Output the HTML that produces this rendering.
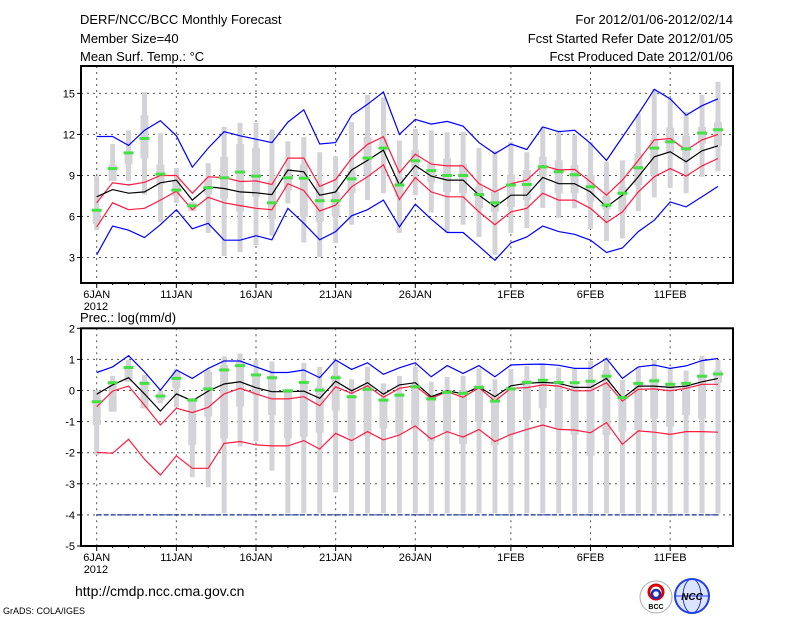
<!DOCTYPE html>
<html><head><meta charset="utf-8"><style>
html,body{margin:0;padding:0;background:#fff;width:800px;height:618px;overflow:hidden}
svg{display:block}
text{font-family:"Liberation Sans","DejaVu Sans",sans-serif;fill:#000}
</style></head><body>
<svg id="chart" width="800" height="618" viewBox="0 0 800 618" xmlns="http://www.w3.org/2000/svg">
<text x="80" y="24" font-size="13">DERF/NCC/BCC Monthly Forecast</text>
<text x="80" y="43" font-size="13">Member Size=40</text>
<text x="80" y="61" font-size="13">Mean Surf. Temp.: °C</text>
<text x="733" y="24" font-size="13" text-anchor="end">For 2012/01/06-2012/02/14</text>
<text x="733" y="43" font-size="13" text-anchor="end">Fcst Started Refer Date 2012/01/05</text>
<text x="733" y="61" font-size="13" text-anchor="end">Fcst Produced Date 2012/01/06</text>
<text x="80" y="322" font-size="13">Prec.: log(mm/d)</text>
<text x="75" y="596" font-size="14">http://cmdp.ncc.cma.gov.cn</text>
<text x="3" y="614" font-size="9">GrADS: COLA/IGES</text>
<g>
<circle cx="656" cy="597" r="16" fill="#fff" stroke="#aaa"/>
<circle cx="656" cy="592" r="7" fill="none" stroke="#d00" stroke-width="3"/>
<circle cx="656" cy="594" r="4" fill="none" stroke="#1030c0" stroke-width="2.5"/>
<text x="656" y="609" font-size="7" text-anchor="middle" font-weight="bold">BCC</text>
</g>
<g>
<circle cx="692" cy="596" r="17" fill="#dde4ff" stroke="#2040e0" stroke-width="2"/>
<ellipse cx="692" cy="596" rx="9" ry="17" fill="none" stroke="#2040e0"/>
<line x1="675" y1="596" x2="709" y2="596" stroke="#2040e0"/>
<text x="692" y="600" font-size="10" text-anchor="middle" fill="#1030c0" font-weight="bold" font-style="italic">NCC</text>
</g>
<g id="plots"></g>
</svg>
<script>
// ---- data ----
const dayLabels = ["6JAN","11JAN","16JAN","21JAN","26JAN","1FEB","6FEB","11FEB"];
const dayLabelIdx = [0,5,10,15,20,26,31,36];
const tTicks = [3,6,9,12,15];
const pTicks = [-5,-4,-3,-2,-1,0,1,2];
// temperature
const tBlueHi = [11.85,11.85,11.2,12.3,13.0,11.9,9.6,11.0,12.2,11.9,11.65,11.4,12.9,13.8,11.3,11.4,13.4,14.2,15.1,12.0,13.1,12.75,12.95,12.6,11.4,10.6,11.3,10.9,12.55,12.2,12.3,11.35,10.1,11.8,13.5,15.3,14.6,13.4,14.1,14.6];
const tBlueLo = [3.2,5.3,5.0,4.46,5.4,6.5,5.1,5.5,4.27,4.27,4.6,4.3,6.6,5.5,4.3,4.9,6.05,6.5,7.2,5.24,6.9,5.8,4.83,4.83,3.83,2.8,4.07,4.5,5.3,4.9,4.7,4.27,3.37,3.7,4.9,5.73,7.07,6.7,7.44,8.2];
const tRedHi = [7.0,8.46,8.3,8.5,9.0,9.0,7.7,8.9,8.85,8.56,8.6,8.34,10.27,10.27,8.2,8.7,10.25,11.27,11.83,9.2,10.56,9.83,9.7,9.7,8.4,7.8,8.4,8.66,9.73,9.4,9.44,8.54,7.56,8.66,10.1,11.6,11.7,10.85,11.6,12.0];
const tRedLo = [5.24,7.0,6.5,6.6,7.2,7.85,6.5,7.4,7.0,6.8,6.6,6.5,8.4,7.9,6.4,6.83,8.17,8.9,9.78,7.24,8.85,7.8,7.44,7.44,6.34,5.4,6.34,6.6,7.7,7.2,7.2,6.6,5.56,6.34,7.8,8.9,9.5,8.95,9.7,10.24];
const tMed = [7.44,7.97,7.7,7.8,8.46,8.66,7.2,8.17,8.05,7.8,7.73,7.6,9.4,9.27,7.56,7.8,9.4,10.1,10.85,8.3,9.73,8.95,8.66,8.66,7.56,6.7,7.56,7.56,8.85,8.4,8.4,7.8,6.7,7.56,8.9,10.36,10.73,10.0,10.8,11.17];
const tObs = [6.46,9.5,10.65,11.7,9.1,7.93,6.78,8.1,8.83,9.25,8.95,7.0,8.83,8.8,7.15,7.15,8.75,10.27,11.0,8.3,10.07,9.35,9.0,9.0,7.6,7.0,8.3,8.34,9.63,9.27,9.05,8.17,6.83,7.7,9.56,11.0,11.46,10.95,12.1,12.34];
const tWhiskHi = [8.95,11.3,12.3,15.1,12.1,9.55,7.05,9.9,12.55,12.85,12.85,12.35,11.5,11.8,10.7,10.4,12.9,14.9,14.7,11.55,12.4,12.3,12.15,12.2,11.0,10.8,11.45,10.7,12.55,12.3,11.95,11.45,10.0,10.1,13.5,15.3,14.7,13.65,14.9,15.85];
const tBoxHi = [6.4,9.8,10.7,13.4,9.8,8.65,7.0,8.8,10.35,11.3,11.0,8.65,9.45,9.8,8.4,7.8,9.35,11.8,11.7,8.85,10.85,9.83,10.25,9.83,8.17,7.8,9.05,9.4,10.37,10.1,9.75,9.05,7.5,8.17,10.6,11.6,12.5,11.9,12.55,12.9];
const tBoxLo = [5.45,8.6,9.8,10.25,8.35,7.5,6.4,7.6,7.3,6.35,7.45,5.8,7.9,5.97,5.6,6.0,7.7,9.0,11.0,7.45,9.4,8.5,7.8,7.7,6.6,6.35,6.7,7.2,8.9,7.7,7.7,7.1,6.5,6.35,8.3,9.0,10.7,10.25,11.35,11.15];
const tWhiskLo = [5.0,8.6,8.6,7.6,5.6,7.0,6.4,4.8,3.1,3.4,3.9,4.6,6.95,4.1,3.05,4.05,5.4,7.2,7.7,4.8,7.55,6.3,4.85,5.4,4.5,3.2,4.8,5.15,6.63,5.9,6.6,5.1,4.2,4.4,6.4,7.4,8.1,7.7,8.9,9.3];
// precipitation
const pBlueHi = [0.58,0.76,1.12,0.6,0.01,0.66,0.39,0.71,0.95,0.95,0.76,0.58,0.58,0.66,0.41,0.98,0.68,0.89,0.52,0.73,0.89,0.44,0.8,0.55,0.8,0.44,0.82,0.84,0.85,0.81,0.71,0.71,1.03,0.39,0.76,0.82,0.71,0.79,0.96,1.03];
const pMed = [-0.12,0.18,0.41,-0.11,-0.66,-0.11,-0.33,-0.02,0.21,0.28,0.09,-0.04,-0.04,-0.02,-0.25,0.3,-0.01,0.25,-0.12,0.18,0.25,-0.2,-0.01,-0.11,0.12,-0.2,0.15,0.23,0.26,0.23,0.1,0.1,0.39,-0.25,0.14,0.14,0.1,0.14,0.28,0.39];
const pRedHi = [-0.52,-0.02,0.14,-0.47,-1.11,-0.57,-0.71,-0.54,-0.11,0.07,-0.11,-0.27,-0.27,-0.2,-0.49,0.12,-0.09,0.15,-0.22,0.07,0.15,-0.25,-0.04,-0.22,0.09,-0.34,0.07,0.09,0.18,0.14,-0.01,-0.01,0.25,-0.34,0.04,0.05,-0.01,0.07,0.2,0.2];
const pRedLo = [-1.99,-2.02,-1.57,-2.21,-2.72,-2.1,-2.5,-2.5,-1.7,-1.64,-1.75,-1.78,-1.78,-1.61,-1.88,-1.38,-1.61,-1.32,-1.59,-1.43,-1.14,-1.56,-1.32,-1.5,-1.25,-1.64,-1.41,-1.25,-1.11,-1.25,-1.27,-1.36,-1.03,-1.73,-1.3,-1.34,-1.41,-1.32,-1.32,-1.34];
const pBlueLo = [-4,-4,-4,-4,-4,-4,-4,-4,-4,-4,-4,-4,-4,-4,-4,-4,-4,-4,-4,-4,-4,-4,-4,-4,-4,-4,-4,-4,-4,-4,-4,-4,-4,-4,-4,-4,-4,-4,-4,-4];
const pObs = [-0.36,0.25,0.74,0.23,-0.18,0.39,-0.31,0.05,0.66,0.8,0.5,0.41,-0.01,0.26,0.01,0.41,-0.2,0.04,-0.31,-0.15,0.12,-0.27,-0.06,-0.09,0.1,-0.34,0.05,0.26,0.33,0.26,0.25,0.3,0.46,-0.23,0.23,0.31,0.2,0.23,0.46,0.53];
const pWhiskHi = [0.0,0.47,0.98,0.5,0.0,0.69,-0.25,0.68,1.1,1.19,1.0,0.93,0.0,0.89,0.76,1.0,0.36,0.76,0.23,0.47,0.76,0.28,0.44,0.47,0.71,0.36,0.69,0.79,0.84,0.74,0.69,0.95,1.06,0.34,0.74,0.98,0.71,0.64,1.11,0.98];
const pBoxHi = [0.0,0.28,0.8,0.3,-0.1,0.6,-0.25,0.6,0.82,0.92,0.55,0.46,0.0,0.28,0.12,0.5,-0.15,0.18,-0.25,-0.07,0.25,-0.15,0.01,0.01,0.18,-0.15,0.12,0.34,0.34,0.28,0.18,0.34,0.66,-0.2,0.25,0.39,0.18,0.23,0.5,0.66];
const pBoxLo = [-1.11,-0.68,0.28,-0.57,-0.3,0.07,-1.75,-0.84,-1.54,-0.52,-0.14,-0.79,-1.54,-1.48,-1.36,-0.65,-1.48,-1.48,-1.22,-1.38,-1.16,-1.64,-1.32,-1.72,-1.0,-1.75,-1.43,-0.95,-0.57,-1.22,-1.43,-2.1,-1.43,-1.32,-1.27,-0.9,-1.16,-0.79,-0.9,0.25];
const pWhiskLo = [-2.07,-0.68,0.28,-0.57,-0.41,-0.54,-2.79,-3.11,-3.95,-1.8,-1.64,-2.58,-3.95,-3.95,-3.95,-3.28,-3.95,-3.95,-3.95,-3.95,-3.95,-3.95,-3.95,-3.95,-3.95,-3.95,-3.95,-3.95,-3.95,-3.95,-3.95,-3.95,-3.95,-3.95,-3.95,-3.95,-3.95,-3.95,-3.95,-3.95];

// ---- drawing ----
const NS = "http://www.w3.org/2000/svg";
const root = document.getElementById("plots");
function mk(tag, attrs, parent){
  const e = document.createElementNS(NS, tag);
  for (const k in attrs) e.setAttribute(k, attrs[k]);
  (parent||root).appendChild(e);
  return e;
}
const L = 81, R = 733;
function xOf(i){ return 96.7 + 15.93 * i; }

function panel(name, top, bottom, vMin, vMax, ticks, series, bars, obs, extraLabel){
  const yOf = v => bottom - (v - vMin) / (vMax - vMin) * (bottom - top);
  const g = mk("g", {});
  
  
  // grid
  ticks.forEach(t => {
    if (t <= vMin || t >= vMax) return;
    const ln = mk("line", {x1:L, x2:R, y1:yOf(t), y2:yOf(t), stroke:"#555", "stroke-width":1, "stroke-dasharray":"2,4"}, g);
    
    
  });
  dayLabelIdx.forEach(i => {
    const ln = mk("line", {x1:xOf(i), x2:xOf(i), y1:top, y2:bottom, stroke:"#555", "stroke-width":1, "stroke-dasharray":"2,4"}, g);
    
    
  });
  // bars
  for (let i = 0; i < bars[0].length; i++){
    const x = xOf(i);
    const w = mk("rect", {x:x-2.5, width:5, y:yOf(bars[3][i]), height:Math.max(1, yOf(bars[0][i]) - yOf(bars[3][i])), fill:"#d4d4d8"}, g);
    
    
    const b = mk("rect", {x:x-4, width:8, y:yOf(bars[2][i]), height:Math.max(1, yOf(bars[1][i]) - yOf(bars[2][i])), fill:"#d4d4d8"}, g);
    
    
  }
  // lines
  series.forEach(s => {
    const pts = s.data.map((v,i) => xOf(i).toFixed(1) + "," + yOf(v).toFixed(1)).join(" ");
    const p = mk("polyline", {points:pts, fill:"none", stroke:s.color, "stroke-width":1.2}, g);
    if (s.dash) p.setAttribute("stroke-dasharray", s.dash);
    
    
  });
  // observations
  obs.forEach((v,i) => {
    const r = mk("rect", {x:xOf(i)-5, width:10, y:yOf(v)-1.5, height:3, fill:"#44e044"}, g);
    
    
  });
  // frame
  const f = mk("rect", {x:L, y:top, width:R-L, height:bottom-top, fill:"none", stroke:"#000", "stroke-width":2}, g);
  
  
  // y ticks
  ticks.forEach(t => {
    mk("line", {x1:L-4, x2:L, y1:yOf(t), y2:yOf(t), stroke:"#000"}, g);
    const tx = mk("text", {x:L-6, y:yOf(t)+4, "font-size":11, "text-anchor":"end"}, g);
    tx.textContent = t;
    
    
  });
  // x ticks
  for (let i = 0; i < 40; i++){
    mk("line", {x1:xOf(i), x2:xOf(i), y1:bottom, y2:bottom+(dayLabelIdx.includes(i)?5:2), stroke:"#000"}, g);
  }
  dayLabelIdx.forEach((i,k) => {
    const tx = mk("text", {x:xOf(i), y:bottom+15, "font-size":11, "text-anchor":"middle"}, g);
    tx.textContent = dayLabels[k];
    
    
  });
  const yr = mk("text", {x:xOf(0)-13, y:bottom+27, "font-size":11}, g);
  yr.textContent = "2012";
  
  
}

panel("temperature-panel", 66, 283, 1.14, 17.0, tTicks,
  [{name:"temp-blue-upper", data:tBlueHi, color:"#0000ff"},
   {name:"temp-blue-lower", data:tBlueLo, color:"#0000ff"},
   {name:"temp-red-upper", data:tRedHi, color:"#ff1a40"},
   {name:"temp-red-lower", data:tRedLo, color:"#ff1a40"},
   {name:"temp-median", data:tMed, color:"#000"}],
  [tWhiskLo, tBoxLo, tBoxHi, tWhiskHi], tObs);

panel("precip-panel", 328.3, 546, -5, 2, pTicks,
  [{name:"prec-blue-upper", data:pBlueHi, color:"#0000ff"},
   {name:"prec-blue-lower", data:pBlueLo, color:"#1030a0", dash:"5,2"},
   {name:"prec-red-upper", data:pRedHi, color:"#ff1a40"},
   {name:"prec-red-lower", data:pRedLo, color:"#ff1a40"},
   {name:"prec-median", data:pMed, color:"#000"}],
  [pWhiskLo, pBoxLo, pBoxHi, pWhiskHi], pObs);
</script>
</body></html>
